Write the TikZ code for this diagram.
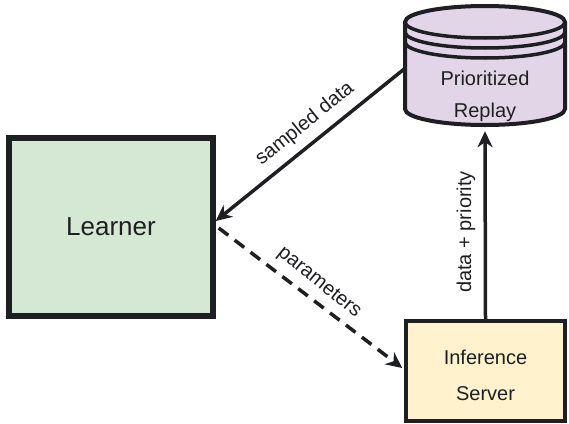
\documentclass[tikz,border=0pt]{standalone}
\usepackage{fontspec}
\setmainfont{Liberation Sans}
\usetikzlibrary{arrows.meta}
\definecolor{ink}{HTML}{1E1F22}
\definecolor{lgreen}{HTML}{D5E8D4}
\definecolor{lpurple}{HTML}{E1D5E7}
\definecolor{lyellow}{HTML}{FFF2CC}
\begin{document}
\begin{tikzpicture}[x=1pt,y=-1pt,
  box/.style={draw=ink, rectangle, inner sep=0pt, text=ink},
  lab/.style={text=ink, font=\fontsize{20}{22}\selectfont, inner sep=1pt},
  conn/.style={draw=ink, line width=3.5pt, -{Stealth[length=16pt,width=15pt,inset=5pt]}},
  dashconn/.style={conn, dash pattern=on 12pt off 8pt},
]
\useasboundingbox (0,0) rectangle (569,423);
% Learner
\node[box, fill=lgreen, line width=5.5pt, minimum width=204pt, minimum height=178pt,
      font=\fontsize{26}{30}\selectfont] (learner) at (111,227) {Learner};
% Inference server
\node[box, fill=lyellow, line width=3.5pt, minimum width=159pt, minimum height=100pt] (server) at (485.5,371) {};
\node[text=ink, align=center, font=\fontsize{20}{36}\selectfont] (servertext) at (485.5,375) {Inference\\Server};
% Prioritized replay (cylinder)
\path[fill=lpurple, draw=ink, line width=4pt]
  (405,22) -- (405,109) arc[start angle=180, end angle=0, x radius=80, y radius=16]
  -- (565,22) arc[start angle=0, end angle=-180, x radius=80, y radius=16] -- cycle;
\draw[ink, line width=3.5pt] (405,22) arc[start angle=180, end angle=0, x radius=80, y radius=16];
\draw[ink, line width=3.5pt] (405,32) arc[start angle=180, end angle=0, x radius=80, y radius=16];
\draw[ink, line width=3.5pt] (405,42) arc[start angle=180, end angle=0, x radius=80, y radius=16];
\node[inner sep=0pt, minimum width=160pt, minimum height=119pt] (replay) at (485,65.5) {};
\node[text=ink, align=center, font=\fontsize{20}{32}\selectfont] (replaytext) at (485,96) {Prioritized\\Replay};
% connectors
\draw[conn] ([yshift=-3pt]replay.west) -- ([yshift=6pt]learner.east);
\draw[dashconn] ([xshift=3pt,yshift=-1pt]learner.east) -- ([xshift=-2pt,yshift=3pt]server.west);
\draw[conn] (server.north) -- ([yshift=-6pt]replay.south);
% labels
\node[lab, rotate=39] (lsampled) at (305,124) {sampled data};
\node[lab, rotate=-39] (lparam) at (319,283) {parameters};
\node[lab, rotate=90] (lprio) at (466,232) {data + priority};
\end{tikzpicture}
\end{document}
